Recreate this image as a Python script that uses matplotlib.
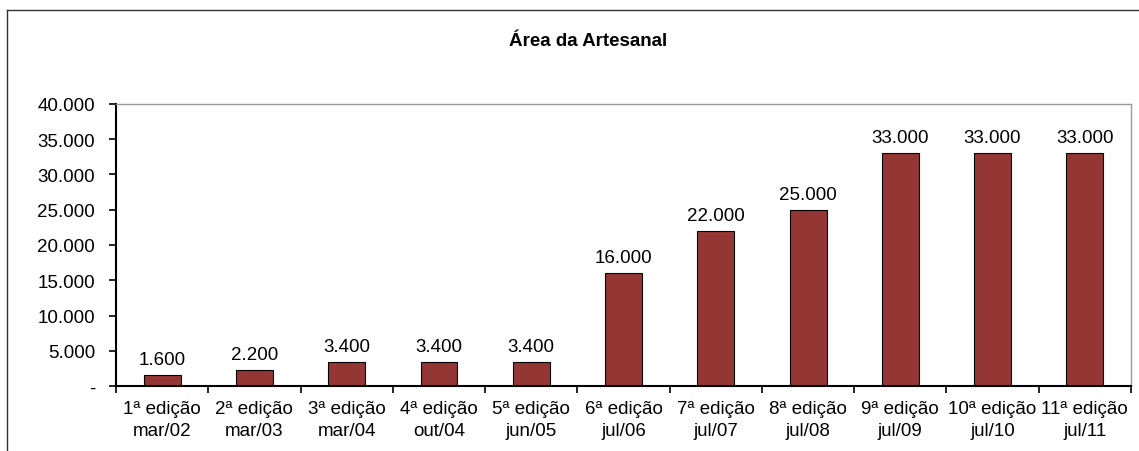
import matplotlib
matplotlib.use("Agg")
import matplotlib.pyplot as plt
from matplotlib.lines import Line2D
import numpy as np

edicoes = ["1ª edição", "2ª edição", "3ª edição", "4ª edição", "5ª edição", "6ª edição",
           "7ª edição", "8ª edição", "9ª edição", "10ª edição", "11ª edição"]
datas = ["mar/02", "mar/03", "mar/04", "out/04", "jun/05", "jul/06",
         "jul/07", "jul/08", "jul/09", "jul/10", "jul/11"]
area = [1600, 2200, 3400, 3400, 3400, 16000, 22000, 25000, 33000, 33000, 33000]
yticks = [0, 5000, 10000, 15000, 20000, 25000, 30000, 35000, 40000]

plt.rcParams['font.family'] = ['Liberation Sans', 'DejaVu Sans']
FS = 13.5

def fmt(v):
    return "-" if v == 0 else f"{v:,}".replace(",", ".")

W, H = 1139, 452
fig = plt.figure(figsize=(W / 100, H / 100), dpi=100)
ax = fig.add_axes([116 / W, 1 - 387 / H, (1131 - 116) / W, (387 - 105) / H])

x = np.arange(len(area))
bars = ax.bar(x, area, width=0.4, color="#943634", edgecolor="black", linewidth=0.8)
for b, v in zip(bars, area):
    ax.text(b.get_x() + b.get_width() / 2, v + 1000, fmt(v), ha="center", va="bottom", fontsize=FS)

ax.set_xlim(-0.5, len(area) - 0.5)
ax.set_ylim(0, 40000)
ax.set_yticks(yticks)
ax.set_yticklabels([fmt(v) for v in yticks], fontsize=FS)
ax.set_xticks(x)
ax.set_xticklabels([f"{e}\n{d}" for e, d in zip(edicoes, datas)], fontsize=FS, linespacing=1.4)
ax.set_xticks(np.arange(-0.5, len(area)), minor=True)
ax.tick_params(axis="x", which="major", length=0, pad=10)
ax.tick_params(axis="x", which="minor", length=5, width=1.2, direction="out")
ax.tick_params(axis="y", length=5, width=1.2, direction="out", pad=10)

for s in ["left", "bottom"]:
    ax.spines[s].set_color("black")
    ax.spines[s].set_linewidth(1.5)
for s in ["top", "right"]:
    ax.spines[s].set_color("#999999")
    ax.spines[s].set_linewidth(1.0)

fig.text(588 / W, 1 - 42 / H, "Área da Artesanal", ha="center", va="center",
         fontsize=FS, fontweight="bold")

# outer chart frame (cut at right and bottom)
fig.add_artist(Line2D([7 / W, 7 / W], [0, 1 - 11 / H], color="#333333", lw=1.0, transform=fig.transFigure))
fig.add_artist(Line2D([7 / W, 1], [1 - 11 / H, 1 - 11 / H], color="#333333", lw=1.0, transform=fig.transFigure))

fig.savefig("out.png", dpi=100)
